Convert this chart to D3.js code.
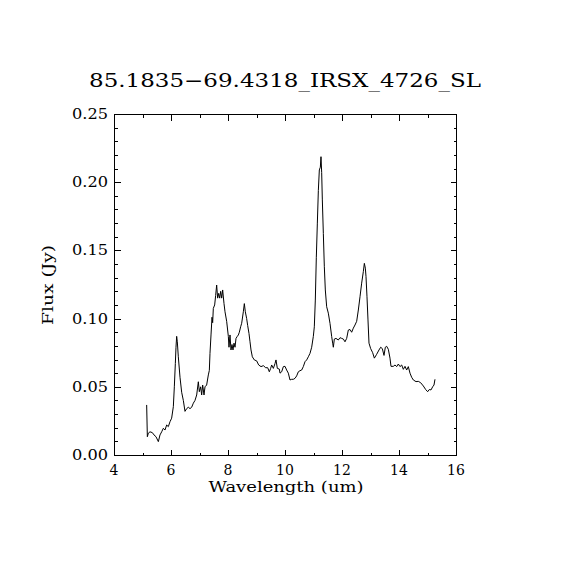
<!DOCTYPE html>
<html>
<head>
<meta charset="utf-8">
<script src="https://cdn.jsdelivr.net/npm/d3@7"></script>
<style>
  body { margin: 0; background: white; }
  text { font-family: "DejaVu Serif", "Liberation Serif", serif; fill: black; }
</style>
</head>
<body>
<div id="chart"></div>
<script>
const title = '85.1835\u221269.4318_IRSX_4726_SL';

// wavelength (um)
const wavelength = [5.146,5.170,5.205,5.263,5.345,5.404,5.474,5.556,5.614,5.673,5.731,5.789,5.848,5.906,5.965,6.023,
  6.082,6.117,6.152,6.175,6.199,6.222,6.257,6.316,6.374,6.433,6.491,6.550,6.608,6.667,6.725,6.784,6.842,6.901,
  6.959,6.994,7.041,7.076,7.111,7.158,7.193,7.251,7.310,7.345,7.368,7.404,7.439,7.462,7.485,7.532,7.567,7.602,
  7.637,7.673,7.708,7.743,7.778,7.813,7.860,7.895,7.953,8.012,8.035,8.070,8.105,8.140,8.175,8.211,8.246,8.281,
  8.327,8.363,8.398,8.444,8.480,8.538,8.573,8.608,8.655,8.690,8.737,8.772,8.807,8.854,8.924,9.006,9.076,9.158,
  9.240,9.322,9.392,9.450,9.497,9.532,9.591,9.649,9.684,9.731,9.801,9.825,9.883,9.942,10.000,10.058,10.117,
  10.175,10.234,10.292,10.351,10.409,10.468,10.526,10.585,10.643,10.702,10.760,10.819,10.877,10.936,10.994,
  11.029,11.064,11.099,11.135,11.170,11.205,11.240,11.263,11.287,11.310,11.345,11.380,11.415,11.462,11.520,
  11.579,11.637,11.673,11.696,11.731,11.789,11.871,11.930,11.988,12.047,12.105,12.164,12.222,12.281,12.339,
  12.398,12.456,12.515,12.573,12.632,12.690,12.748,12.784,12.819,12.842,12.877,12.912,12.947,13.006,13.076,
  13.135,13.216,13.298,13.357,13.415,13.474,13.520,13.567,13.626,13.684,13.719,13.801,13.860,13.918,13.977,
  14.035,14.094,14.152,14.211,14.269,14.327,14.386,14.444,14.503,14.596,14.678,14.760,14.854,14.936,15.006,
  15.064,15.123,15.181,15.228,15.263];

// flux (Jy)
const flux = [0.0367,0.0134,0.0160,0.0170,0.0164,0.0147,0.0134,0.0098,0.0147,0.0170,0.0196,0.0183,0.0220,0.0208,0.0244,0.0270,
  0.0354,0.0500,0.0670,0.0790,0.0870,0.0830,0.0720,0.0570,0.0460,0.0400,0.0320,0.0340,0.0350,0.0340,0.0350,0.0380,0.0400,0.0440,
  0.0537,0.0464,0.0500,0.0440,0.0513,0.0440,0.0500,0.0513,0.0587,0.0620,0.0745,0.0880,0.1010,0.0970,0.1075,0.1100,0.1170,0.1246,
  0.1150,0.1185,0.1150,0.1200,0.1150,0.1210,0.1110,0.1050,0.0980,0.0870,0.0790,0.0880,0.0770,0.0810,0.0770,0.0820,0.0790,0.0855,
  0.0870,0.0880,0.0900,0.0940,0.0966,0.1050,0.1110,0.1050,0.1000,0.0950,0.0890,0.0830,0.0770,0.0720,0.0697,0.0690,0.0660,0.0648,
  0.0655,0.0640,0.0640,0.0610,0.0635,0.0660,0.0635,0.0670,0.0697,0.0635,0.0630,0.0600,0.0610,0.0648,0.0650,0.0623,0.0600,
  0.0550,0.0555,0.0555,0.0562,0.0580,0.0610,0.0618,0.0623,0.0648,0.0684,0.0697,0.0720,0.0745,0.0790,0.0870,
  0.0940,0.1136,0.1450,0.1700,0.1940,0.2090,0.2110,0.2187,0.2070,0.1870,0.1625,0.1380,0.1210,0.1087,0.1040,
  0.0965,0.0870,0.0820,0.0790,0.0850,0.0855,0.0843,0.0860,0.0855,0.0850,0.0830,0.0855,0.0916,0.0920,0.0900,
  0.0930,0.0953,0.0980,0.1063,0.1160,0.1260,0.1344,0.1405,0.1370,0.1310,0.1160,0.0990,0.0820,0.0780,0.0750,
  0.0710,0.0738,0.0770,0.0790,0.0780,0.0730,0.0790,0.0797,0.0775,0.0710,0.0650,0.0650,0.0660,0.0648,0.0667,
  0.0648,0.0660,0.0628,0.0650,0.0623,0.0648,0.0600,0.0570,0.0550,0.0538,0.0540,0.0530,0.0506,0.0480,0.0464,
  0.0480,0.0477,0.0500,0.0513,0.0555];

const xTicks = [4, 6, 8, 10, 12, 14, 16];
const yTicks = [0.00, 0.05, 0.10, 0.15, 0.20, 0.25];

const W = 570, H = 570;
const plot = {left: 114, right: 456, top: 114, bottom: 455};

const svg = d3.select('#chart').append('svg')
    .attr('width', W)
    .attr('height', H)
    .style('background', 'white');

const x = d3.scaleLinear().domain([4, 16]).range([plot.left, plot.right]);
const y = d3.scaleLinear().domain([0, 0.25]).range([plot.bottom, plot.top]);

// frame
svg.append('rect')
    .attr('x', plot.left + 0.5)
    .attr('y', plot.top + 0.5)
    .attr('width', plot.right - plot.left)
    .attr('height', plot.bottom - plot.top)
    .attr('fill', 'none')
    .attr('stroke', 'black')
    .attr('stroke-width', 1)
    .attr('shape-rendering', 'crispEdges');

const xMinor = d3.range(4, 16.001, 1);
const yMinor = d3.range(0, 0.2501, 0.01);

function tickLines(g, vals, len, horiz, pos, dir) {
    g.selectAll(null).data(vals).join('line')
        .attr('x1', d => horiz ? Math.round(x(d)) + 0.5 : pos + 0.5)
        .attr('x2', d => horiz ? Math.round(x(d)) + 0.5 : pos + 0.5 + dir * len)
        .attr('y1', d => horiz ? pos + 0.5 : Math.round(y(d)) + 0.5)
        .attr('y2', d => horiz ? pos + 0.5 + dir * len : Math.round(y(d)) + 0.5)
        .attr('stroke', 'black')
        .attr('stroke-width', 1)
        .attr('shape-rendering', 'crispEdges');
}

const ticks = svg.append('g');
tickLines(ticks, xMinor, 3, true, plot.bottom, -1);
tickLines(ticks, xTicks, 6, true, plot.bottom, -1);
tickLines(ticks, xMinor, 3, true, plot.top, 1);
tickLines(ticks, xTicks, 6, true, plot.top, 1);
tickLines(ticks, yMinor, 3, false, plot.left, 1);
tickLines(ticks, yTicks, 6, false, plot.left, 1);
tickLines(ticks, yMinor, 3, false, plot.right, -1);
tickLines(ticks, yTicks, 6, false, plot.right, -1);

// tick labels
svg.append('g').selectAll('text').data(xTicks).join('text')
    .attr('x', d => x(d))
    .attr('y', 475)
    .attr('text-anchor', 'middle')
    .attr('font-size', 14)
    .text(d => d);

svg.append('g').selectAll('text').data(yTicks).join('text')
    .attr('x', 108)
    .attr('y', d => y(d) + 5)
    .attr('text-anchor', 'end')
    .attr('font-size', 14)
    .attr('textLength', 36)
    .attr('lengthAdjust', 'spacingAndGlyphs')
    .text(d => d3.format('.2f')(d));

// titles
svg.append('text')
    .attr('x', 285)
    .attr('y', 87)
    .attr('text-anchor', 'middle')
    .attr('font-size', 19)
    .attr('textLength', 392)
    .attr('lengthAdjust', 'spacingAndGlyphs')
    .text(title);

svg.append('text')
    .attr('x', 286)
    .attr('y', 492)
    .attr('text-anchor', 'middle')
    .attr('font-size', 14)
    .attr('textLength', 155)
    .attr('lengthAdjust', 'spacingAndGlyphs')
    .text('Wavelength (um)');

svg.append('text')
    .attr('transform', 'translate(53,285) rotate(-90)')
    .attr('text-anchor', 'middle')
    .attr('font-size', 14)
    .attr('textLength', 80)
    .attr('lengthAdjust', 'spacingAndGlyphs')
    .text('Flux (Jy)');

// spectrum
const pts = wavelength.map((w, i) => [w, flux[i]]);
svg.append('path')
    .datum(pts)
    .attr('fill', 'none')
    .attr('stroke', 'black')
    .attr('stroke-width', 1)
    .attr('d', d3.line().x(d => x(d[0])).y(d => y(d[1])));
</script>
</body>
</html>
